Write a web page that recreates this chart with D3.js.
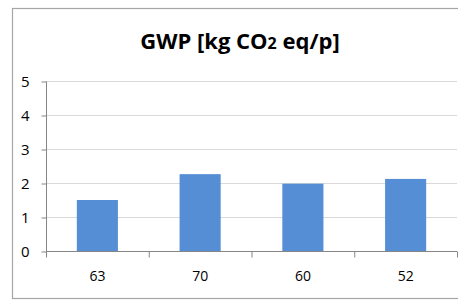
<!DOCTYPE html>
<html>
<head>
<meta charset="utf-8">
<script src="https://cdn.jsdelivr.net/npm/d3@7"></script>
<style>
  body { margin: 0; background: #fff; }
  text { font-family: "Open Sans", "Liberation Sans", sans-serif; }
</style>
</head>
<body>
<div id="chart"></div>
<script>
// data
var categories = ["63", "70", "60", "52"]
var values = [1.5, 2.26, 1.98, 2.12]
var yTicks = [0, 1, 2, 3, 4, 5]

var width = 458,
    height = 301

var plot = {left: 46, right: 457, top: 81, bottom: 251}

var svg = d3.select("#chart")
  .append("svg")
    .attr("width", width)
    .attr("height", height)

// outer frame
svg.append("rect")
    .attr("x", 12.5)
    .attr("y", 8.5)
    .attr("width", 460)
    .attr("height", 290)
    .attr("fill", "none")
    .attr("stroke", "#a6a6a6")
    .attr("stroke-width", 1.2)

// title
var title = svg.append("text")
    .attr("x", 240)
    .attr("y", 49)
    .attr("text-anchor", "middle")
    .style("font-size", "22px")
    .style("font-weight", "bold")
    .attr("fill", "#000")
title.append("tspan").text("GWP [kg CO")
title.append("tspan").style("font-size", "16px").text("2")
title.append("tspan").text(" eq/p]")

var x = d3.scaleBand()
    .domain(categories)
    .range([plot.left, plot.right])
    .padding(0)

var y = d3.scaleLinear()
    .domain([0, 5])
    .range([plot.bottom, plot.top])

// gridlines
svg.append("g")
  .selectAll("line")
  .data(yTicks.filter(d => d > 0))
  .enter()
  .append("line")
    .attr("x1", plot.left)
    .attr("x2", plot.right)
    .attr("y1", d => y(d) + 0.5)
    .attr("y2", d => y(d) + 0.5)
    .attr("stroke", "#d9d9d9")

// bars
var barW = x.bandwidth() * 0.4
svg.append("g")
  .selectAll("rect")
  .data(values)
  .enter()
  .append("rect")
    .attr("x", (d, i) => x(categories[i]) + x.bandwidth() / 2 - barW / 2)
    .attr("y", d => y(d))
    .attr("width", barW)
    .attr("height", d => y(0) - y(d))
    .attr("fill", "#558ed5")

// y axis
var yAxis = svg.append("g")
    .attr("transform", "translate(" + (plot.left + 0.5) + ",0.5)")
    .call(d3.axisLeft(y).tickValues(yTicks).tickFormat(d3.format("d")).tickSize(5).tickPadding(12))
yAxis.select(".domain").attr("stroke", "#868686").attr("d", "M0," + y(5) + "V" + y(0))
yAxis.selectAll(".tick line").attr("stroke", "#868686")
yAxis.selectAll("text")
    .style("font-size", "15px")
    .attr("fill", "#000")

// x axis
var xAxis = svg.append("g")
    .attr("transform", "translate(0," + (plot.bottom + 0.5) + ")")
    .call(d3.axisBottom(x).tickSize(0).tickPadding(20))
xAxis.select(".domain").attr("stroke", "#868686").attr("d", "M" + plot.left + ",0H" + plot.right)
xAxis.selectAll("text")
    .style("font-size", "14px")
    .attr("fill", "#000")

// category boundary ticks
xAxis.append("g")
  .selectAll("line")
  .data(categories.map(c => x(c)).concat([plot.right]))
  .enter()
  .append("line")
    .attr("x1", d => d + 0.5)
    .attr("x2", d => d + 0.5)
    .attr("y1", 0)
    .attr("y2", 6)
    .attr("stroke", "#868686")
</script>
</body>
</html>
